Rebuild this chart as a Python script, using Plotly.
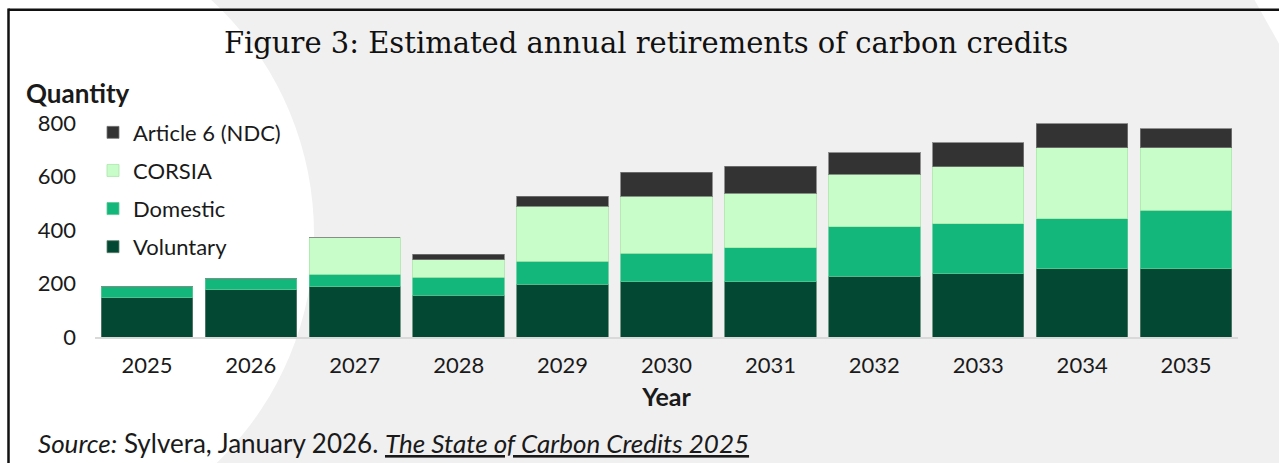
import plotly.graph_objects as go

years = ["2025", "2026", "2027", "2028", "2029", "2030", "2031", "2032", "2033", "2034", "2035"]
voluntary = [146, 176, 187, 157, 197, 206, 206, 227, 236, 256, 256]
domestic = [41, 41, 47, 67, 87, 108, 128, 186, 188, 187, 217]
corsia = [0, 0, 137, 64, 204, 213, 204, 196, 212, 265, 235]
article6 = [0, 0, 0, 21, 39, 89, 100, 79, 90, 89, 70]
y_ticks = [0, 200, 400, 600, 800]

W_FIG, H_FIG = 1279, 463
L, R, T, B = 95, 1238, 123.4, 336.7
PW, PH = R - L, B - T


def px(x):
    return (x - L) / PW


def py(y):
    return (B - y) / PH


FONT = "Lato"
TXT = "#1a1a1a"

series = [
    ("Voluntary", voluntary, "#034833", "rgba(90,130,110,0.8)", 4),
    ("Domestic", domestic, "#13b77b", "rgba(90,200,150,0.8)", 3),
    ("CORSIA", corsia, "#c8fcc8", "rgba(170,230,170,0.8)", 2),
    ("Article 6 (NDC)", article6, "#333333", "rgba(120,120,120,0.8)", 1),
]

fig = go.Figure()
for name, vals, col, lc, rank in series:
    fig.add_trace(go.Bar(
        x=years, y=vals, name=name, legendgroup=name, legendrank=rank,
        marker=dict(color=col, line=dict(color=lc, width=1)),
    ))

shapes = [
    dict(type="circle", xref="paper", yref="paper",
         x0=px(-2 - 316), x1=px(-2 + 316), y0=py(234 + 316), y1=py(234 - 316),
         fillcolor="white", line=dict(width=0), layer="below"),
    dict(type="path", xref="paper", yref="paper",
         path=f"M {px(1253)},{py(-2)} L {px(1290)},{py(-2)} L {px(1290)},{py(64)} Z",
         fillcolor="white", line=dict(width=0), layer="below"),
    dict(type="line", xref="paper", yref="paper",
         x0=px(8.5), x1=px(1300), y0=py(10.5), y1=py(10.5),
         line=dict(color="#111111", width=2.5), layer="below"),
    dict(type="line", xref="paper", yref="paper",
         x0=px(8.5), x1=px(8.5), y0=py(9.3), y1=py(480),
         line=dict(color="#111111", width=2.5), layer="below"),
]

fig.update_layout(
    width=W_FIG, height=H_FIG,
    margin=dict(l=L, r=W_FIG - R, t=T, b=H_FIG - B, pad=0),
    paper_bgcolor="#f0f0f0",
    plot_bgcolor="rgba(0,0,0,0)",
    barmode="stack",
    bargap=0.12,
    shapes=shapes,
    title=dict(
        text="Figure 3: Estimated annual retirements of carbon credits",
        font=dict(family="DejaVu Serif", size=29, color="#111111"),
        xref="container", yref="container",
        x=646 / W_FIG, xanchor="center",
        y=1 - 43 / H_FIG, yanchor="middle",
    ),
    font=dict(family=FONT, color=TXT),
    legend=dict(
        traceorder="grouped",
        tracegroupgap=6.5,
        x=px(93), xanchor="left",
        y=py(112), yanchor="top",
        bgcolor="rgba(0,0,0,0)",
        font=dict(family=FONT, size=22, color=TXT),
    ),
    xaxis=dict(
        showline=True, linecolor="#d9d9d9", linewidth=2,
        showgrid=False, ticks="", zeroline=False,
        tickfont=dict(family=FONT, size=22, color=TXT),
        ticklabelstandoff=8,
        title=dict(text="<b>Year</b>", font=dict(family=FONT, size=25, color=TXT), standoff=11),
        automargin=False,
    ),
    yaxis=dict(
        range=[0, 800], tickvals=y_ticks,
        showgrid=False, zeroline=False, showline=False, ticks="",
        tickfont=dict(family=FONT, size=22, color=TXT),
        ticklabelstandoff=18,
        automargin=False,
    ),
    annotations=[
        dict(text="<b>Quantity</b>", xref="paper", yref="paper",
             x=px(24), y=py(93), xanchor="left", yanchor="middle",
             showarrow=False, font=dict(family=FONT, size=26, color=TXT)),
        dict(text="<i>Source:</i> Sylvera, January 2026. <i><u>The State of Carbon Credits 2025</u></i>",
             xref="paper", yref="paper",
             x=px(36), y=py(442), xanchor="left", yanchor="middle",
             showarrow=False, font=dict(family=FONT, size=26, color=TXT)),
    ],
)

fig.write_html("out.html", include_plotlyjs=True, config={"displayModeBar": False})
